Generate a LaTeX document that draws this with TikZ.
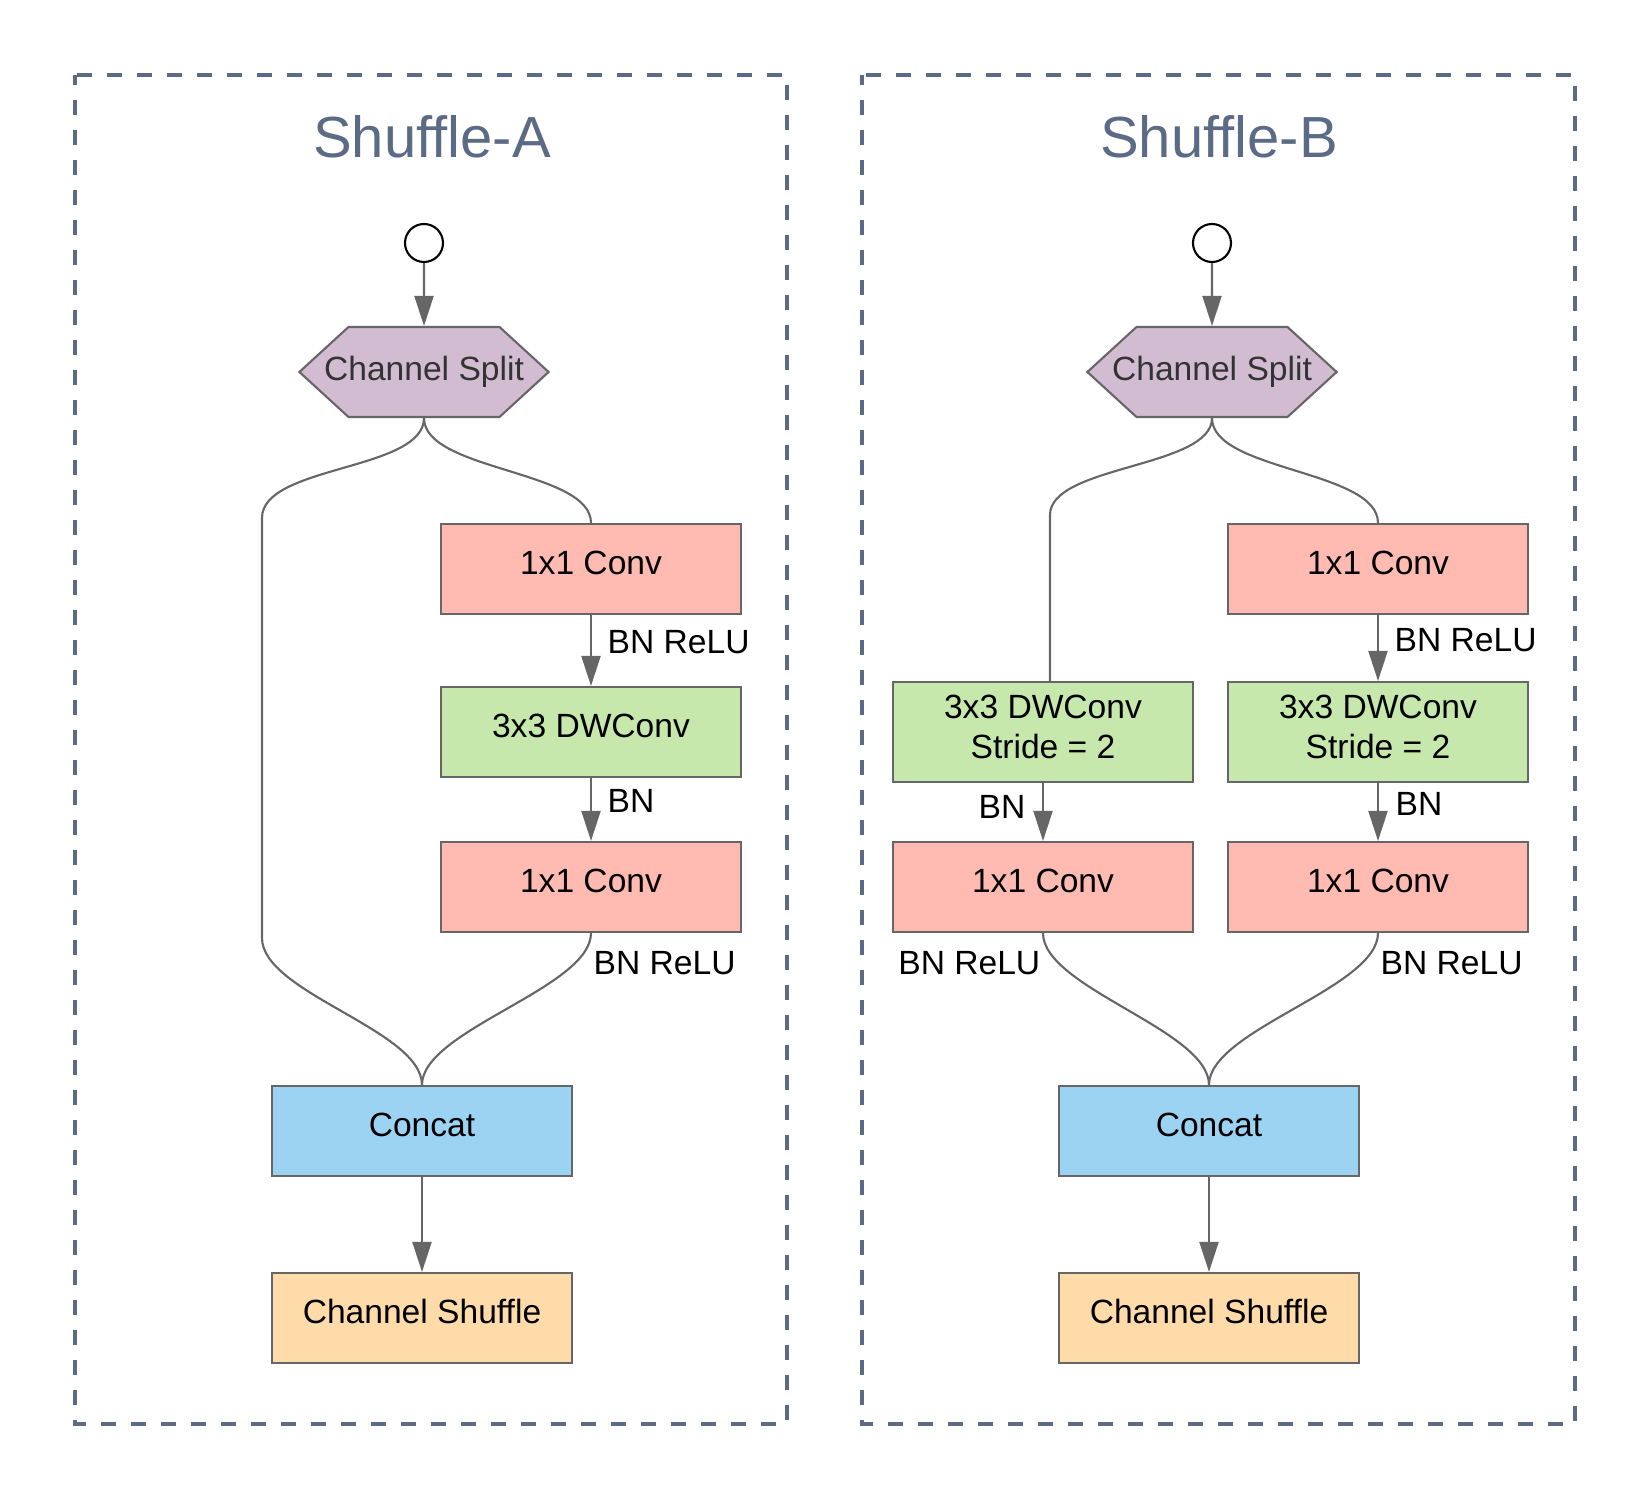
\documentclass[tikz,border=0pt]{standalone}
\usepackage{fontspec}
\setmainfont{Liberation Sans}
\usepackage{tikz}
\usetikzlibrary{shapes.symbols,arrows.meta}

\definecolor{linegray}{HTML}{666666}
\definecolor{panelblue}{HTML}{5B6B86}
\definecolor{splitpurple}{HTML}{D1BCD2}
\definecolor{splittext}{HTML}{333333}
\definecolor{convpink}{HTML}{FFBBB1}
\definecolor{dwgreen}{HTML}{C7E8AC}
\definecolor{catblue}{HTML}{9DD3F2}
\definecolor{shufforange}{HTML}{FFDBA9}

\newcommand{\boxfont}{\fontsize{9.56}{11.4}\selectfont}
\newcommand{\titlefont}{\fontsize{16.5}{20}\selectfont}
\newcommand{\splittext}[1]{\makebox[1.51cm]{#1}}

\tikzset{
  panel/.style={draw=panelblue, line width=1.1pt, dash pattern=on 0.15cm off 0.15cm, dash phase=0.05cm},
  paneltitle/.style={text=panelblue, font=\titlefont, inner sep=0pt},
  inport/.style={shape=circle, draw=black, fill=white, line width=0.6pt, minimum size=0.38cm, inner sep=0pt},
  splitnode/.style={shape=signal, signal to=west and east, signal pointer angle=85, draw=linegray, fill=splitpurple, line width=0.6pt, minimum height=0.9cm, inner sep=0pt, text=splittext, font=\boxfont},
  block/.style={draw=linegray, line width=0.6pt, minimum width=3cm, minimum height=0.9cm, inner sep=0pt, font=\boxfont},
  oneline/.style={text height=0.24cm, text depth=0.128cm},
  conv/.style={block, oneline, fill=convpink},
  dwconv/.style={block, oneline, fill=dwgreen},
  dwstride/.style={block, fill=dwgreen, minimum height=1cm, align=center, text depth=0.11cm},
  concat/.style={block, oneline, fill=catblue},
  shuffle/.style={block, oneline, fill=shufforange},
  lbl/.style={inner sep=0pt, font=\boxfont},
  flow/.style={color=linegray, line width=0.6pt, -{Triangle[length=0.3cm,width=0.19cm]}},
  link/.style={draw=linegray, line width=0.6pt}
}

\begin{document}
\begin{tikzpicture}
        \useasboundingbox (0,0) rectangle (16.5,15);

        % panels
        \draw[panel] (0.75,14.25) rectangle (7.87,0.76);
        \draw[panel] (8.62,14.25) rectangle (15.75,0.76);
        \node[paneltitle] (tA) at (4.32,13.63) {Shuffle-A};
        \node[paneltitle] (tB) at (12.19,13.63) {Shuffle-B};

        % Shuffle-A
        \node[inport] (inA) at (4.24,12.57) {};
        \node[splitnode] (splitA) at (4.24,11.28) {\splittext{Channel Split}};
        \node[conv] (c1A) at (5.91,9.31) {1x1 Conv};
        \node[dwconv] (dwA) at (5.91,7.68) {3x3 DWConv};
        \node[conv] (c2A) at (5.91,6.13) {1x1 Conv};
        \node[concat] (catA) at (4.22,3.69) {Concat};
        \node[shuffle] (shA) at (4.22,1.82) {Channel Shuffle};
        \coordinate (bypA1) at (2.62,9.82);
        \coordinate (bypA2) at (2.62,5.62);

        \node[lbl, anchor=west] (l1A) at (6.07,8.58) {BN ReLU};
        \node[lbl, anchor=west] (l2A) at (6.07,6.99) {BN};
        \node[lbl, anchor=west] (l3A) at (5.93,5.37) {BN ReLU};

        \draw [flow](inA) -- (splitA);
        \draw [flow](c1A) -- (dwA);
        \draw [flow](dwA) -- (c2A);
        \draw [flow](catA) -- (shA);
        \draw [link](splitA.south) .. controls +(0,-0.53) and +(0,0.53) .. (bypA1)
            -- (bypA2) .. controls +(0,-0.55) and +(0,0.55) .. (catA.north);
        \draw [link](splitA.south) .. controls +(0,-0.53) and +(0,0.53) .. (c1A.north);
        \draw [link](c2A.south) .. controls +(0,-0.55) and +(0,0.55) .. (catA.north);

        % Shuffle-B
        \node[inport] (inB) at (12.12,12.57) {};
        \node[splitnode] (splitB) at (12.12,11.28) {\splittext{Channel Split}};
        \node[conv] (c1B) at (13.78,9.31) {1x1 Conv};
        \node[dwstride] (dwBR) at (13.78,7.68) {3x3 DWConv\\Stride = 2};
        \node[dwstride] (dwBL) at (10.43,7.68) {3x3 DWConv\\Stride = 2};
        \node[conv] (c2BL) at (10.43,6.13) {1x1 Conv};
        \node[conv] (c2BR) at (13.78,6.13) {1x1 Conv};
        \node[concat] (catB) at (12.09,3.69) {Concat};
        \node[shuffle] (shB) at (12.09,1.82) {Channel Shuffle};
        \coordinate (bypB1) at (10.50,9.85);

        \node[lbl, anchor=west] (l1B) at (13.94,8.60) {BN ReLU};
        \node[lbl, anchor=west] (l2B) at (13.95,6.96) {BN};
        \node[lbl, anchor=east] (l3B) at (10.26,6.93) {BN};
        \node[lbl, anchor=east] (l4B) at (10.41,5.37) {BN ReLU};
        \node[lbl, anchor=west] (l5B) at (13.80,5.37) {BN ReLU};

        \draw [flow](inB) -- (splitB);
        \draw [flow](c1B) -- (dwBR);
        \draw [flow](dwBR) -- (c2BR);
        \draw [flow](dwBL) -- (c2BL);
        \draw [flow](catB) -- (shB);
        \draw [link](splitB.south) .. controls +(0,-0.5) and +(0,0.5) .. (bypB1)
            -- (bypB1 |- dwBL.north);
        \draw [link](splitB.south) .. controls +(0,-0.53) and +(0,0.53) .. (c1B.north);
        \draw [link](c2BL.south) .. controls +(0,-0.55) and +(0,0.55) .. (catB.north);
        \draw [link](c2BR.south) .. controls +(0,-0.55) and +(0,0.55) .. (catB.north);
    \end{tikzpicture}
\end{document}
